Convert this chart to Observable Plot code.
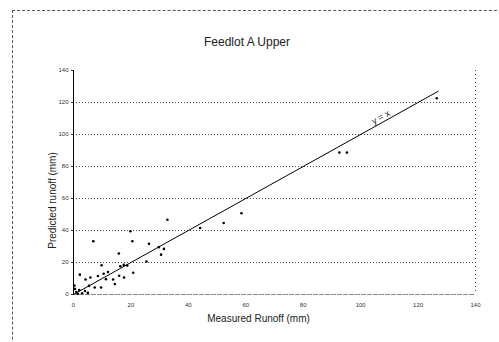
<!DOCTYPE html>
<html>
<head>
<meta charset="utf-8">
<script src="https://cdn.jsdelivr.net/npm/d3@7"></script>
<script src="https://cdn.jsdelivr.net/npm/@observablehq/plot@0.6"></script>
<style>
  html, body { margin: 0; padding: 0; background: #fff; }
  #wrap { position: relative; width: 499px; height: 342px; overflow: hidden; font-family: "Liberation Sans", Arial, sans-serif; }
  #frame { position: absolute; left: 12px; top: 10px; width: 520px; height: 400px; border-left: 1px dashed #555; border-top: 1px dashed #555; box-sizing: border-box; }
  #title { position: absolute; left: 0; top: 35px; width: 494px; text-align: center; font-size: 12px; color: #222; }
  #chart { position: absolute; left: 0; top: 50px; }
</style>
</head>
<body>
<div id="wrap">
  <div id="frame"></div>
  <div id="title">Feedlot A Upper</div>
  <div id="chart"></div>
</div>
<script>
const titleText = "Feedlot A Upper";
const xLabel = "Measured Runoff (mm)";
const yLabel = "Predicted runoff (mm)";
const xTicks = [0, 20, 40, 60, 80, 100, 120, 140];
const yTicks = [0, 20, 40, 60, 80, 100, 120, 140];
const gridTicks = [20, 40, 60, 80, 100, 120];

const measured = [126.5, 92.6, 95.2, 58.5, 52.3, 44.1, 32.7, 19.8, 20.5, 6.9,
  26.3, 29.7, 31.5, 30.5, 15.8, 25.4, 9.8, 17.5, 18.7, 16.3,
  20.8, 2.2, 15.9, 17.6, 11.3, 13.8, 8.5, 5.9, 4.2, 14.4,
  7.4, 9.6, 5.4, 0.3, 1.0, 2.0, 3.0, 4.0, 0.5, 1.5,
  10.5, 12.0, 5.0];
const predicted = [122.7, 88.7, 88.7, 50.8, 44.7, 41.6, 46.7, 39.5, 33.3, 33.3,
  31.7, 29.6, 28.5, 24.9, 25.6, 20.6, 18.3, 18.5, 18.1, 17.7,
  13.6, 12.4, 11.7, 10.6, 9.6, 9.4, 11.6, 10.6, 9.4, 6.5,
  4.4, 4.4, 5.4, 5.6, 1.5, 2.8, 0.8, 2.2, 3.5, 0.5,
  13.0, 14.0, 1.0];

const lineX = [0, 127];
const lineY = [0, 127];
const lineLabel = ["y = x"];
const lineLabelPos = [107];

const points = measured.map((m, i) => ({m, p: predicted[i]}));
const oneToOne = lineX.map((x, i) => ({x, y: lineY[i]}));

const chart = Plot.plot({
  width: 499,
  height: 292,
  marginLeft: 73,
  marginRight: 24,
  marginTop: 20,
  marginBottom: 48,
  style: {fontFamily: "Liberation Sans, Arial, sans-serif", background: "transparent", color: "#333"},
  x: {domain: [0, 140]},
  y: {domain: [0, 140]},
  marks: [
    Plot.gridY(gridTicks, {stroke: "#000", strokeOpacity: 0.7, strokeDasharray: "1,2"}),
    Plot.ruleY([0], {stroke: "#888", strokeDasharray: "5,1"}),
    Plot.ruleX([140], {stroke: "#444", strokeDasharray: "1,3"}),
    Plot.axisY(yTicks, {tickSize: 2, fontSize: 6, tickPadding: 3, label: null, fill: "#333"}),
    Plot.axisX(xTicks, {tickSize: 0, fontSize: 6, tickPadding: 8, label: null, fill: "#333"}),
    Plot.ruleX([0], {y1: 0, y2: 140, stroke: "#000"}),
    Plot.line(oneToOne, {x: "x", y: "y", stroke: "#000", strokeWidth: 1}),
    Plot.text(lineLabel, {x: lineLabelPos, y: lineLabelPos, dy: -6, rotate: -29, fontSize: 9, fill: "#222"}),
    Plot.dot(points, {x: "m", y: "p", r: 1.3, fill: "#000", stroke: "none"}),
    Plot.text([xLabel], {frameAnchor: "bottom", dx: -16, dy: 27, fontSize: 10, fill: "#222"}),
    Plot.text([yLabel], {frameAnchor: "left", textAnchor: "middle", dx: -21, dy: 18, rotate: -90, fontSize: 10, fill: "#222"})
  ]
});
document.getElementById("chart").appendChild(chart);
</script>
</body>
</html>
